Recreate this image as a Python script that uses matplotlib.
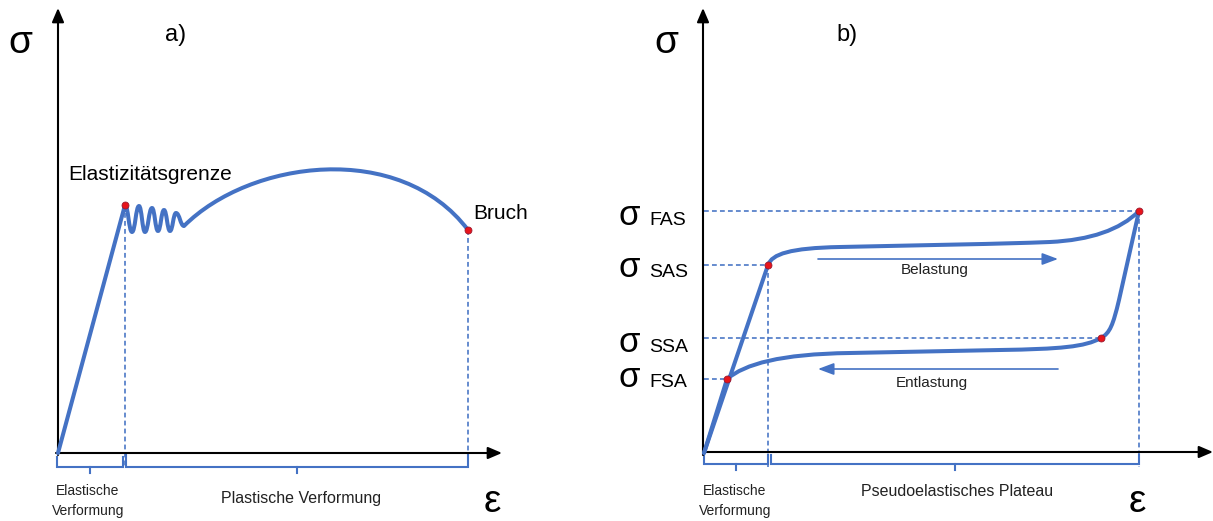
import matplotlib
matplotlib.use('Agg')
import matplotlib.pyplot as plt
from matplotlib.path import Path
from matplotlib.patches import PathPatch

plt.rcParams['font.family'] = ['Liberation Sans', 'DejaVu Sans']

BLUE = '#4472C4'
RED = '#E8141B'

# ---- a) conventional metal (pixel coordinates, y downward)
a_origin = (58, 453)
a_yield = (125, 205)
a_break = (468, 230)
# serrations after the yield point: alternating peaks / troughs
a_wiggle_x = [125, 132, 139, 145, 152, 158, 164, 170, 176, 184]
a_wiggle_y = [205, 232, 206, 232, 208, 231, 210, 231, 213, 226]
# hardening arc up to fracture (cubic Bezier control points)
a_arc = [(184, 226), (250, 160), (400, 140), (468, 230)]

# ---- b) shape memory alloy, pseudoelastic loop
b_origin = (704, 453)
b_sas = (768, 265)
b_fas = (1139, 211)
b_ssa = (1101, 338)
b_fsa = (727, 379)
b_load = [(772, 254), (790, 248), (840, 247),
          (930, 245), (1000, 244), (1050, 242),
          (1090, 240), (1120, 230)]
b_unload_knee = (1119, 300)
b_unload = [(1113, 325), (1110, 333),
            (1085, 347), (1060, 349), (1000, 350),
            (950, 351), (900, 352), (850, 353),
            (780, 354), (745, 364)]

sigma_labels = ['FAS', 'SAS', 'SSA', 'FSA']
sigma_levels = [b_fas, b_sas, b_ssa, b_fsa]
sigma_baselines = [225, 277, 352, 387]


def smooth_wiggle(xs, ys):
    verts = [(xs[0], ys[0])]
    codes = [Path.MOVETO]
    for i in range(1, len(xs)):
        dx = xs[i] - xs[i - 1]
        verts += [(xs[i - 1] + 0.45 * dx, ys[i - 1]),
                  (xs[i] - 0.45 * dx, ys[i]),
                  (xs[i], ys[i])]
        codes += [Path.CURVE4] * 3
    return verts, codes


def curve(ax, verts, codes, **kw):
    ax.add_patch(PathPatch(Path(verts, codes), fill=False, edgecolor=BLUE,
                           lw=2.9, capstyle='round', joinstyle='round', **kw))


def dashed(ax, xs, ys):
    ax.plot(xs, ys, color=BLUE, lw=1.15, ls=(0, (3, 2)), zorder=1)


def brace(ax, x0, x1, ytop, ybot, tip):
    xc = (x0 + x1) / 2
    ax.plot([x0, x0, x1, x1], [ytop, ybot, ybot, ytop], color=BLUE, lw=1.5,
            solid_joinstyle='miter')
    ax.plot([xc, xc], [ybot, tip], color=BLUE, lw=1.5)


def axis_arrow(ax, start, end):
    ax.annotate('', xy=end, xytext=start,
                arrowprops=dict(arrowstyle='-|>,head_length=0.7,head_width=0.3',
                                lw=1.5, color='black', shrinkA=0, shrinkB=0,
                                mutation_scale=12))


def dot(ax, p):
    ax.plot(*p, 'o', ms=5, color=RED, mec='#9A1A30', mew=0.6, zorder=5)


fig = plt.figure(figsize=(12.13, 5.21), dpi=100)
ax = fig.add_axes([0, 0, 1, 1])
ax.set_xlim(0, 1213)
ax.set_ylim(521, 0)
ax.axis('off')

# ---------------- panel a
axis_arrow(ax, (58, 455), (58, 8))
axis_arrow(ax, (56, 453), (502, 453))

verts = [a_origin, a_yield]
codes = [Path.MOVETO, Path.LINETO]
wv, wc = smooth_wiggle(a_wiggle_x, a_wiggle_y)
verts += wv[1:]
codes += wc[1:]
verts += a_arc[1:]
codes += [Path.CURVE4] * 3
curve(ax, verts, codes, zorder=3)

dashed(ax, [a_yield[0], a_yield[0]], [a_yield[1], 467])
dashed(ax, [a_break[0], a_break[0]], [a_break[1], 467])
dot(ax, a_yield)
dot(ax, a_break)

brace(ax, 57, 123, 457, 467, 473)
brace(ax, 126, 468, 455, 467, 473)

ax.text(20, 53, 'σ', fontsize=28, ha='center', va='baseline')
ax.text(165, 41, 'a)', fontsize=17, va='baseline')
ax.text(68, 180, 'Elastizitätsgrenze', fontsize=15, va='baseline')
ax.text(473, 219, 'Bruch', fontsize=15, va='baseline')
ax.text(88, 501, 'Elastische\nVerformung', fontsize=10, ha='center',
        va='center', linespacing=1.6, color='#222222')
ax.text(301, 499, 'Plastische Verformung', fontsize=11.5, ha='center',
        va='center', color='#222222')
ax.text(492, 512, 'ε', fontsize=28, ha='center', va='baseline')

# ---------------- panel b
axis_arrow(ax, (703, 455), (703, 8))
axis_arrow(ax, (703, 452), (1213, 452))

# loading branch
verts = [b_origin, b_sas] + b_load + [b_fas]
codes = [Path.MOVETO, Path.LINETO] + [Path.CURVE4] * 9
curve(ax, verts, codes, zorder=3)

# unloading branch
verts = [b_fas, b_unload_knee] + b_unload[:2] + [b_ssa] + b_unload[2:] + [b_fsa, b_origin]
codes = [Path.MOVETO, Path.LINETO] + [Path.CURVE4] * 12 + [Path.LINETO]
curve(ax, verts, codes, zorder=3)

for p in sigma_levels:
    dashed(ax, [704, p[0]], [p[1], p[1]])
dashed(ax, [b_sas[0], b_sas[0]], [b_sas[1], 467])
dashed(ax, [b_fas[0], b_fas[0]], [b_fas[1], 467])
for p in sigma_levels:
    dot(ax, p)

brace(ax, 704, 768, 455, 464, 470)
brace(ax, 771, 1139, 455, 464, 470)

for lab, yb in zip(sigma_labels, sigma_baselines):
    ax.text(619, yb, 'σ', fontsize=25, va='baseline')
    ax.text(649, yb, lab, fontsize=14, va='baseline')

ax.annotate('', xy=(1058, 259), xytext=(818, 259),
            arrowprops=dict(arrowstyle='-|>,head_length=0.8,head_width=0.3',
                            lw=1.2, color=BLUE, shrinkA=0, shrinkB=0,
                            mutation_scale=12))
ax.annotate('', xy=(818, 369), xytext=(1058, 369),
            arrowprops=dict(arrowstyle='-|>,head_length=0.8,head_width=0.3',
                            lw=1.2, color=BLUE, shrinkA=0, shrinkB=0,
                            mutation_scale=12))
ax.text(935, 270, 'Belastung', fontsize=11, ha='center', va='center',
        color='#222222')
ax.text(932, 383, 'Entlastung', fontsize=11, ha='center', va='center',
        color='#222222')

ax.text(666, 53, 'σ', fontsize=28, ha='center', va='baseline')
ax.text(836, 41, 'b)', fontsize=17, va='baseline')
ax.text(735, 501, 'Elastische\nVerformung', fontsize=10, ha='center',
        va='center', linespacing=1.6, color='#222222')
ax.text(957, 492, 'Pseudoelastisches Plateau', fontsize=11.5, ha='center',
        va='center', color='#222222')
ax.text(1137, 512, 'ε', fontsize=28, ha='center', va='baseline')

fig.savefig('out.png', dpi=100)
